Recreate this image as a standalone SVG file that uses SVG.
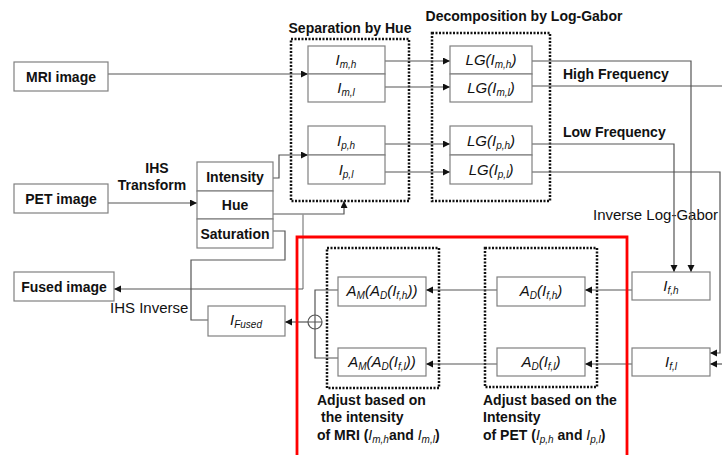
<svg xmlns="http://www.w3.org/2000/svg" width="722" height="455" viewBox="0 0 722 455">
<defs>
<marker id="ah" markerUnits="userSpaceOnUse" markerWidth="8" markerHeight="8" refX="7" refY="3.5" orient="auto">
<path d="M0,0 L7,3.5 L0,7 z" fill="#111"/>
</marker>
<style>
.box{fill:#fff;stroke:#808080;stroke-width:1.2}
.dot{fill:none;stroke:#111;stroke-width:2.5;stroke-dasharray:2 1.5}
.c{fill:none;stroke:#555;stroke-width:1.2}
.ca{fill:none;stroke:#555;stroke-width:1.2;marker-end:url(#ah)}
.g{fill:none;stroke:#999;stroke-width:1.5}
.red{fill:none;stroke:#f00;stroke-width:2.8}
text{font-family:"Liberation Sans",Arial,sans-serif;fill:#111}
.b{font-size:14px;font-weight:bold}
.r{font-size:15px}
.it{font-size:15px;font-style:italic}
.s{font-size:10px;font-style:italic}
.m{text-anchor:middle}
</style>
</defs>
<rect width="722" height="455" fill="#fff"/>

<g id="titles">
<text class="b m" x="350" y="33">Separation by Hue</text>
<text class="b m" x="524" y="21">Decomposition by Log-Gabor</text>
<text class="b" x="563" y="79">High Frequency</text>
<text class="b" x="563" y="137">Low Frequency</text>
<text class="r" x="593" y="220">Inverse Log-Gabor</text>
<text class="b m" x="157" y="173">IHS</text>
<text class="b m" x="152" y="190">Transform</text>
<text class="r" x="110" y="313">IHS Inverse</text>
</g>

<g id="groups">
<rect class="dot" x="291" y="39" width="118" height="162"/>
<rect class="dot" x="432" y="33" width="118" height="168"/>
<rect class="dot" x="327" y="248" width="112" height="140"/>
<rect class="dot" x="485" y="248" width="112" height="139"/>
</g>

<g id="connectors">
<path class="ca" d="M108,74 H308"/>
<path class="ca" d="M108,203 H197"/>
<path class="ca" d="M273,178 H279 V155 H308"/>
<path class="ca" d="M273,214 H344 V201"/>
<path class="g" d="M303,214 V289"/>
<path class="ca" d="M303,289 H114"/>
<path class="c" d="M273,231 H285 V260 H191 V320 H208"/>
<path class="ca" d="M385,61 H450"/>
<path class="ca" d="M385,87 H450"/>
<path class="ca" d="M385,144 H450"/>
<path class="ca" d="M385,172 H450"/>
<path class="ca" d="M532,61 H691 V272"/>
<path class="c" d="M532,86 H722"/>
<path class="ca" d="M532,144 H674 V272"/>
<path class="ca" d="M532,172 H720 V353 H710"/>
<path class="ca" d="M722,364 H710"/>
<path class="ca" d="M632,290 H585"/>
<path class="ca" d="M632,364 H585"/>
<path class="ca" d="M497,290 H426"/>
<path class="ca" d="M497,364 H426"/>
<path class="c" d="M338,290 H315 V315"/>
<path class="c" d="M338,358 H315 V329"/>
<path class="ca" d="M308,322 H285"/>
</g>

<g id="mri"><rect class="box" x="14" y="62" width="94" height="29"/><text class="b m" x="61" y="82">MRI image</text></g>
<g id="pet"><rect class="box" x="14" y="184" width="94" height="29"/><text class="b m" x="61" y="204">PET image</text></g>
<g id="fused"><rect class="box" x="14" y="272" width="100" height="29"/><text class="b m" x="64" y="292">Fused image</text></g>

<g id="ihs">
<rect class="box" x="197" y="162" width="76" height="29"/><text class="b m" x="235" y="182">Intensity</text>
<rect class="box" x="197" y="191" width="76" height="28"/><text class="b m" x="235" y="210">Hue</text>
<rect class="box" x="197" y="219" width="76" height="29"/><text class="b m" x="235" y="239">Saturation</text>
</g>

<g id="im">
<rect class="box" x="308" y="46" width="77" height="28"/><text class="it m" x="346" y="65">I<tspan class="s" dy="3">m,h</tspan></text>
<rect class="box" x="308" y="74" width="77" height="28"/><text class="it m" x="346" y="93">I<tspan class="s" dy="3">m,l</tspan></text>
</g>
<g id="ip">
<rect class="box" x="308" y="126" width="77" height="29"/><text class="it m" x="346" y="146">I<tspan class="s" dy="3">p,h</tspan></text>
<rect class="box" x="308" y="155" width="77" height="29"/><text class="it m" x="346" y="175">I<tspan class="s" dy="3">p,l</tspan></text>
</g>

<g id="lgm">
<rect class="box" x="450" y="46" width="82" height="28"/><text class="it m" x="491" y="65">LG(I<tspan class="s" dy="3">m,h</tspan><tspan dy="-3">)</tspan></text>
<rect class="box" x="450" y="74" width="82" height="28"/><text class="it m" x="491" y="93">LG(I<tspan class="s" dy="3">m,l</tspan><tspan dy="-3">)</tspan></text>
</g>
<g id="lgp">
<rect class="box" x="450" y="126" width="82" height="29"/><text class="it m" x="491" y="146">LG(I<tspan class="s" dy="3">p,h</tspan><tspan dy="-3">)</tspan></text>
<rect class="box" x="450" y="155" width="82" height="29"/><text class="it m" x="491" y="175">LG(I<tspan class="s" dy="3">p,l</tspan><tspan dy="-3">)</tspan></text>
</g>

<g id="ifh"><rect class="box" x="632" y="272" width="78" height="28"/><text class="it m" x="671" y="291">I<tspan class="s" dy="3">f,h</tspan></text></g>
<g id="ifl"><rect class="box" x="632" y="348" width="78" height="28"/><text class="it m" x="671" y="367">I<tspan class="s" dy="3">f,l</tspan></text></g>

<g id="adh"><rect class="box" x="497" y="277" width="88" height="29"/><text class="it m" x="541" y="296">A<tspan class="s" dy="3">D</tspan><tspan dy="-3">(I</tspan><tspan class="s" dy="3">f,h</tspan><tspan dy="-3">)</tspan></text></g>
<g id="adl"><rect class="box" x="497" y="348" width="88" height="28"/><text class="it m" x="541" y="367">A<tspan class="s" dy="3">D</tspan><tspan dy="-3">(I</tspan><tspan class="s" dy="3">f,l</tspan><tspan dy="-3">)</tspan></text></g>

<g id="amh"><rect class="box" x="338" y="277" width="88" height="29"/><text class="it m" x="382" y="296">A<tspan class="s" dy="3">M</tspan><tspan dy="-3">(A</tspan><tspan class="s" dy="3">D</tspan><tspan dy="-3">(I</tspan><tspan class="s" dy="3">f,h</tspan><tspan dy="-3">))</tspan></text></g>
<g id="aml"><rect class="box" x="338" y="348" width="88" height="28"/><text class="it m" x="382" y="367">A<tspan class="s" dy="3">M</tspan><tspan dy="-3">(A</tspan><tspan class="s" dy="3">D</tspan><tspan dy="-3">(I</tspan><tspan class="s" dy="3">f,l</tspan><tspan dy="-3">))</tspan></text></g>

<g id="sum">
<circle cx="315" cy="322" r="7" fill="#fff" stroke="#555" stroke-width="1.2"/>
<path d="M308,322 H322 M315,315 V329" stroke="#555" stroke-width="1.2"/>
</g>

<g id="ifused"><rect class="box" x="208" y="306" width="77" height="30"/><text class="it m" x="246" y="325">I<tspan class="s" dy="3">Fused</tspan></text></g>

<g id="labels">
<text class="b" x="317" y="405">Adjust based on</text>
<text class="b" x="321" y="422">the intensity</text>
<text class="b" x="317" y="440">of MRI (<tspan font-style="italic" font-weight="normal">I</tspan><tspan class="s" font-weight="normal" dy="3">m,h</tspan><tspan dy="-3">and </tspan><tspan font-style="italic" font-weight="normal">I</tspan><tspan class="s" font-weight="normal" dy="3">m,l</tspan><tspan dy="-3">)</tspan></text>
<text class="b" x="483" y="405">Adjust based on the</text>
<text class="b" x="483" y="422">Intensity</text>
<text class="b" x="483" y="440">of PET (<tspan font-style="italic" font-weight="normal">I</tspan><tspan class="s" font-weight="normal" dy="3">p,h</tspan><tspan dy="-3"> and </tspan><tspan font-style="italic" font-weight="normal">I</tspan><tspan class="s" font-weight="normal" dy="3">p,l</tspan><tspan dy="-3">)</tspan></text>
</g>

<g id="redframe"><path class="red" d="M297,455 V237 H627 V455"/></g>
</svg>
